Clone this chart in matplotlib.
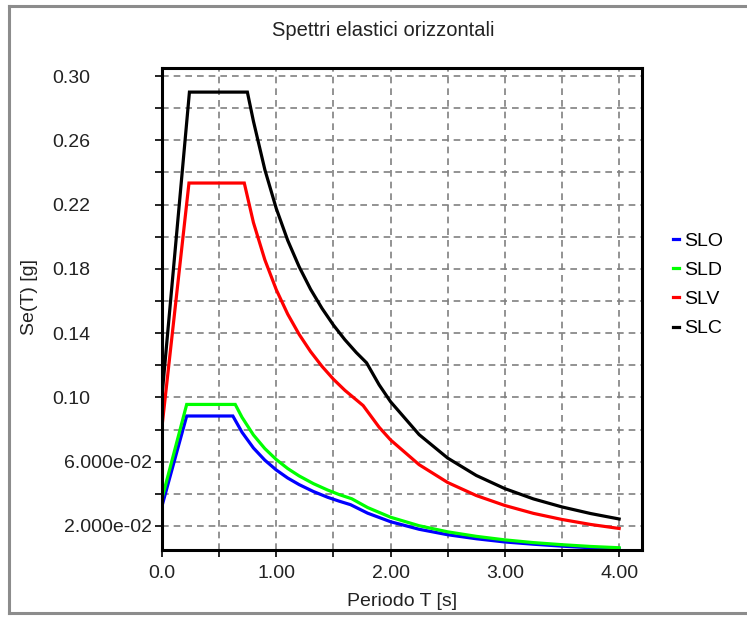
import numpy as np
import matplotlib
matplotlib.use("Agg")
import matplotlib.pyplot as plt
from matplotlib.lines import Line2D
from matplotlib.transforms import blended_transform_factory

plt.rcParams["font.family"] = ["Liberation Sans", "DejaVu Sans"]

# Periodo T [s] and Se(T) [g]
t_slo = [0.0, 0.216, 0.62, 0.70, 0.80, 0.90, 1.00, 1.10, 1.20, 1.325, 1.45, 1.55,
         1.65, 1.80, 2.00, 2.25, 2.50, 2.75, 3.00, 3.25, 3.50, 3.75, 4.00]
se_slo = [0.0324, 0.0884, 0.0884, 0.0783, 0.0685, 0.0609, 0.0548, 0.0498, 0.0457,
          0.0414, 0.0378, 0.0354, 0.0332, 0.0279, 0.0226, 0.0179, 0.0145, 0.0120,
          0.0100, 0.0086, 0.0074, 0.0064, 0.0058]

t_sld = [0.0, 0.216, 0.641, 0.70, 0.80, 0.90, 1.00, 1.10, 1.20, 1.325, 1.45, 1.55,
         1.66, 1.80, 2.00, 2.25, 2.50, 2.75, 3.00, 3.25, 3.50, 3.75, 4.00]
se_sld = [0.0370, 0.0956, 0.0956, 0.0876, 0.0766, 0.0681, 0.0613, 0.0557, 0.0511,
          0.0463, 0.0423, 0.0395, 0.0369, 0.0314, 0.0254, 0.0201, 0.0163, 0.0135,
          0.0113, 0.0096, 0.0083, 0.0072, 0.0064]

t_slv = [0.0, 0.236, 0.72, 0.80, 0.90, 1.00, 1.10, 1.20, 1.30, 1.40, 1.50, 1.60,
         1.76, 1.90, 2.00, 2.25, 2.50, 2.75, 3.00, 3.25, 3.50, 3.75, 4.00]
se_slv = [0.0818, 0.2334, 0.2334, 0.2088, 0.1856, 0.1670, 0.1518, 0.1392, 0.1285,
          0.1193, 0.1113, 0.1044, 0.0949, 0.0814, 0.0735, 0.0581, 0.0470, 0.0389,
          0.0327, 0.0278, 0.0240, 0.0209, 0.0184]

t_slc = [0.0, 0.24, 0.747, 0.80, 0.90, 1.00, 1.10, 1.20, 1.30, 1.40, 1.50, 1.60,
         1.70, 1.79, 1.90, 2.00, 2.25, 2.50, 2.75, 3.00, 3.25, 3.50, 3.75, 4.00]
se_slc = [0.101, 0.290, 0.290, 0.2719, 0.2417, 0.2175, 0.1977, 0.1813, 0.1673,
          0.1554, 0.1450, 0.1359, 0.1279, 0.1215, 0.1078, 0.0973, 0.0768, 0.0622,
          0.0514, 0.0432, 0.0368, 0.0318, 0.0277, 0.0243]

series_names = ["SLO", "SLD", "SLV", "SLC"]
series_colors = ["#0000ff", "#00ff00", "#ff0000", "#000000"]

x_ticks = [0.0, 0.5, 1.0, 1.5, 2.0, 2.5, 3.0, 3.5, 4.0]
x_labels = ["0.0", "", "1.00", "", "2.00", "", "3.00", "", "4.00"]
y_ticks = [0.02, 0.04, 0.06, 0.08, 0.10, 0.12, 0.14, 0.16, 0.18, 0.20,
           0.22, 0.24, 0.26, 0.28, 0.30]
y_labels = ["2.000e-02", "", "6.000e-02", "", "0.10", "", "0.14", "", "0.18", "",
            "0.22", "", "0.26", "", "0.30"]


def plot_spectra():
    fig = plt.figure(figsize=(7.47, 6.17), dpi=100)
    ax = fig.add_axes([162 / 747, 1 - 550 / 617, 480 / 747, 482 / 617])

    # outer panel frame
    for xs, ys in [([9 / 747, 9 / 747], [4 / 617, 1 - 6 / 617]),
                   ([9 / 747, 1.0], [1 - 6 / 617, 1 - 6 / 617]),
                   ([9 / 747, 1.0], [4 / 617, 4 / 617])]:
        fig.add_artist(Line2D(xs, ys, color="#8c8c8c", lw=2.2))

    data = [(t_slo, se_slo), (t_sld, se_sld), (t_slv, se_slv), (t_slc, se_slc)]
    for (t, se), name, color in zip(data, series_names, series_colors):
        ax.plot(t, se, color=color, lw=2.3, label=name, solid_joinstyle="miter")

    ax.set_xlim(0, 4.2)
    ax.set_ylim(0.005, 0.305)
    ax.set_xticks(x_ticks)
    ax.set_xticklabels(x_labels)
    ax.set_yticks(y_ticks)
    ax.set_yticklabels([])
    ax.tick_params(direction="out", length=5, width=1.2, labelsize=14,
                   colors="black")
    ax.tick_params(axis="x", labelcolor="#222222", pad=6)

    # y labels: short ones sit flush left, long ones end near the ticks
    trans = blended_transform_factory(fig.transFigure, ax.transData)
    for val, lab in zip(y_ticks, y_labels):
        if not lab:
            continue
        if len(lab) > 5:
            ax.text(152 / 747, val, lab, transform=trans, ha="right",
                    va="center_baseline", fontsize=14, color="#222222")
        else:
            ax.text(52 / 747, val, lab, transform=trans, ha="left",
                    va="center_baseline", fontsize=14, color="#222222")

    ax.grid(True, color="#808080", linestyle=(0, (4, 3)), lw=1.2)
    for spine in ax.spines.values():
        spine.set_linewidth(2.2)

    fig.text(383 / 747, 1 - 30 / 617, "Spettri elastici orizzontali",
             ha="center", va="center", fontsize=14.5, color="#222222")
    fig.text(402 / 747, 1 - 602 / 617, "Periodo T [s]",
             ha="center", va="center", fontsize=14, color="#222222")
    fig.text(30 / 747, 1 - 297 / 617, "Se(T) [g]", rotation=90,
             ha="center", va="center", fontsize=14, color="#222222")

    ax.legend(loc="upper left", bbox_to_anchor=(673 / 747, 1 - 232 / 617),
              bbox_transform=fig.transFigure, frameon=False, fontsize=14,
              handlelength=0.3, handletextpad=0.25, labelspacing=0.6,
              borderaxespad=0, borderpad=0)

    fig.savefig("out.png", dpi=100)
    plt.close(fig)


if __name__ == "__main__":
    plot_spectra()
